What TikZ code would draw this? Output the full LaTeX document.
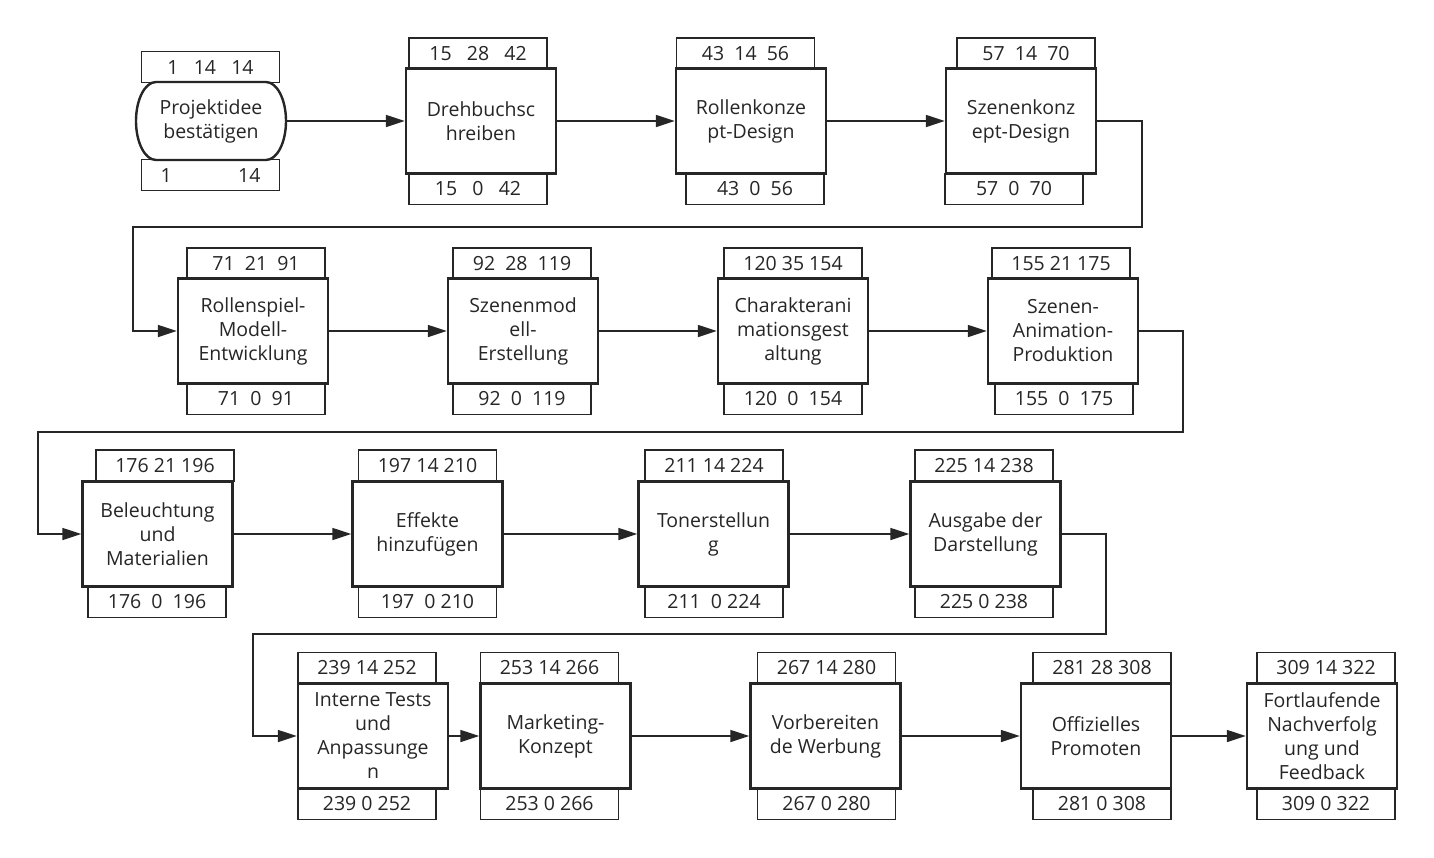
\documentclass[tikz,border=0pt]{standalone}
\usepackage{fontspec}
\setmainfont{Open Sans}
\usetikzlibrary{arrows.meta}
\definecolor{ink}{HTML}{262626}

\begin{document}
\begin{tikzpicture}[x=1pt,y=-1pt,
  every node/.style={font=\fontsize{19.5}{24}\selectfont,text=ink},
  task/.style={draw=ink,line width=2.4pt,fill=white,minimum width=150pt,minimum height=105pt,inner sep=0pt,align=center},
  tag/.style={draw=ink,line width=1.6pt,fill=white,minimum width=138pt,minimum height=31pt,inner sep=0pt},
  flow/.style={draw=ink,line width=1.6pt,-{Triangle[length=19pt,width=12pt]}}]
  \fill[white] (0,0) rectangle (1434,857);
  % Row 1: tags
  \node[tag] (idee-t) at (210.5,67) {1\ \ \ 14\ \ \ 14};
  \node[tag] (idee-b) at (210.5,175) {\makebox[100pt]{1\hfill 14}};
  \node[tag] (drehbuch-t) at (478,53.5) {15\ \ \ 28\ \ \ 42};
  \node[tag] (drehbuch-b) at (478,189) {15\ \ \ 0\ \ \ 42};
  \node[tag] (rollen-t) at (745.5,53.5) {43\ \ 14\ \ 56};
  \node[tag] (rollen-b) at (755,189) {43\ \ 0\ \ 56};
  \node[tag] (szenen-t) at (1026,53.5) {57\ \ 14\ \ 70};
  \node[tag] (szenen-b) at (1014,189) {57\ \ 0\ \ 70};
  % Row 1: tasks
  \node[task,draw=none,fill=none,outer sep=0pt,minimum height=78pt] (idee) at (211,121) {Projektidee\\bestätigen};
  \draw[draw=ink,line width=2.4pt] ([xshift=20pt]idee.north west) -- ([xshift=-20pt]idee.north east)
    arc[start angle=90,end angle=-90,x radius=20pt,y radius=39pt] -- ([xshift=20pt]idee.south west)
    arc[start angle=270,end angle=90,x radius=20pt,y radius=39pt] -- cycle;
  \node[task] (drehbuch) at (481,121) {Drehbuchsc\\hreiben};
  \node[task] (rollen) at (751,121) {Rollenkonze\\pt-Design};
  \node[task] (szenen) at (1021,121) {Szenenkonz\\ept-Design};
  % Row 2: tags
  \node[tag] (spiel-t) at (256,263.5) {71\ \ 21\ \ 91};
  \node[tag] (spiel-b) at (256,399) {71\ \ 0\ \ 91};
  \node[tag] (modell-t) at (522,263.5) {92\ \ 28\ \ 119};
  \node[tag] (modell-b) at (522,399) {92\ \ 0\ \ 119};
  \node[tag] (anim-t) at (793,263.5) {120 35 154};
  \node[tag] (anim-b) at (793,399) {120\ \ 0\ \ 154};
  \node[tag] (szanim-t) at (1061,263.5) {155 21 175};
  \node[tag] (szanim-b) at (1064,399) {155\ \ 0\ \ 175};
  % Row 2: tasks
  \node[task] (spiel) at (253,331) {Rollenspiel-\\Modell-\\Entwicklung};
  \node[task] (modell) at (523,331) {Szenenmod\\ell-\\Erstellung};
  \node[task] (anim) at (793,331) {Charakterani\\mationsgest\\altung};
  \node[task] (szanim) at (1063,331) {Szenen-\\Animation-\\Produktion};
  % Row 3: tags
  \node[tag] (licht-t) at (165,465.5) {176 21 196};
  \node[tag] (licht-b) at (157,602) {176\ \ 0\ \ 196};
  \node[tag] (effekte-t) at (427.5,465.5) {197 14 210};
  \node[tag] (effekte-b) at (427.5,602) {197\ \ 0 210};
  \node[tag] (ton-t) at (714,465.5) {211 14 224};
  \node[tag] (ton-b) at (714,602) {211\ \ 0 224};
  \node[tag] (ausgabe-t) at (984,465.5) {225 14 238};
  \node[tag] (ausgabe-b) at (984,602) {225 0 238};
  % Row 3: tasks
  \node[task] (licht) at (157.5,534) {Beleuchtung\\und\\Materialien};
  \node[task] (effekte) at (427.5,534) {Effekte\\hinzufügen};
  \node[task] (ton) at (713.5,534) {Tonerstellun\\g};
  \node[task] (ausgabe) at (985.5,534) {Ausgabe der\\Darstellung};
  % Row 4: tags
  \node[tag] (tests-t) at (367,668) {239 14 252};
  \node[tag] (tests-b) at (367,804) {239 0 252};
  \node[tag] (marketing-t) at (549.5,668) {253 14 266};
  \node[tag] (marketing-b) at (549.5,804) {253 0 266};
  \node[tag] (werbung-t) at (826.5,668) {267 14 280};
  \node[tag] (werbung-b) at (826.5,804) {267 0 280};
  \node[tag] (promo-t) at (1102,668) {281 28 308};
  \node[tag] (promo-b) at (1102,804) {281 0 308};
  \node[tag] (feedback-t) at (1326,668) {309 14 322};
  \node[tag] (feedback-b) at (1326,804) {309 0 322};
  % Row 4: tasks
  \node[task] (tests) at (373,736) {Interne Tests\\und\\Anpassunge\\n};
  \node[task] (marketing) at (555.5,736) {Marketing-\\Konzept};
  \node[task] (werbung) at (825.5,736) {Vorbereiten\\de Werbung};
  \node[task] (promo) at (1096,736) {Offizielles\\Promoten};
  \node[task] (feedback) at (1322,736) {Fortlaufende\\Nachverfolg\\ung und\\Feedback};
  % Turning points between the rows
  \coordinate (turn1) at (1142,227);
  \coordinate (back1) at (133,227);
  \coordinate (turn2) at (1183,432);
  \coordinate (back2) at (38,432);
  \coordinate (turn3) at (1106,634);
  \coordinate (back3) at (253,634);
  % Connectors
  \draw[flow] (idee) -- (drehbuch);
  \draw[flow] (drehbuch) -- (rollen);
  \draw[flow] (rollen) -- (szenen);
  \draw[flow] (szenen.east) -| (turn1) -- (back1) |- (spiel.west);
  \draw[flow] (spiel) -- (modell);
  \draw[flow] (modell) -- (anim);
  \draw[flow] (anim) -- (szanim);
  \draw[flow] (szanim.east) -| (turn2) -- (back2) |- (licht.west);
  \draw[flow] (licht) -- (effekte);
  \draw[flow] (effekte) -- (ton);
  \draw[flow] (ton) -- (ausgabe);
  \draw[flow] (ausgabe.east) -| (turn3) -- (back3) |- (tests.west);
  \draw[flow] (tests) -- (marketing);
  \draw[flow] (marketing) -- (werbung);
  \draw[flow] (werbung) -- (promo);
  \draw[flow] (promo) -- (feedback);
\end{tikzpicture}
\end{document}
